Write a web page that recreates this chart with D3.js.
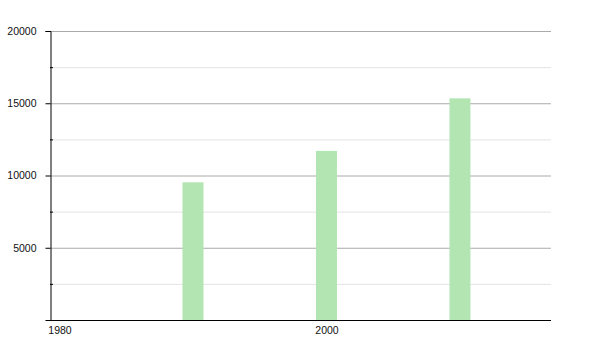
<!DOCTYPE html>
<html>
<head>
  <meta charset="UTF-8">
  <style>
    body { margin: 0; background: #fff; }
    text { font-family: "Liberation Sans", Arial, sans-serif; }
  </style>
</head>
<body>
<svg></svg>
<script src="https://d3js.org/d3.v7.min.js"></script>
<script>

// data
let years = [1990, 2000, 2010];
let values = [9530, 11700, 15340];
let majorTicks = [5000, 10000, 15000, 20000];
let minorTicks = [2500, 7500, 12500, 17500];
let xTicks = [1980, 2000];

let width = 600, height = 350;
let svg = d3.select("svg")
    .attr("width", width)
    .attr("height", height);

let mLeft = 50, mRight = 551, mTop = 31, mBottom = 320;

let x = d3.scaleLinear()
    .domain([1979.29, 2016.82])
    .range([mLeft, mRight]);

let y = d3.scaleLinear()
    .domain([0, 20000])
    .range([mBottom, mTop]);

// minor grid
svg.append("g")
    .selectAll("line")
    .data(minorTicks)
    .enter()
    .append("line")
    .attr("x1", mLeft)
    .attr("x2", mRight)
    .attr("y1", d => y(d) + 0.5)
    .attr("y2", d => y(d) + 0.5)
    .attr("stroke", "#e4e4e4")
    .attr("stroke-width", 1);

// major grid
svg.append("g")
    .selectAll("line")
    .data(majorTicks)
    .enter()
    .append("line")
    .attr("x1", mLeft)
    .attr("x2", mRight)
    .attr("y1", d => y(d) + 0.5)
    .attr("y2", d => y(d) + 0.5)
    .attr("stroke", "#aaaaaa")
    .attr("stroke-width", 1);

// bars
let barW = 21;
svg.append("g")
    .selectAll("rect")
    .data(values)
    .enter()
    .append("rect")
    .attr("x", (d, i) => x(years[i]) - barW / 2)
    .attr("y", d => y(d))
    .attr("width", barW)
    .attr("height", d => y(0) - y(d))
    .attr("fill", "#b3e5b3");

// y axis
let yAxis = d3.axisLeft(y)
    .tickValues(majorTicks)
    .tickFormat(d3.format("d"))
    .tickSize(5)
    .tickPadding(9);

let gy = svg.append("g")
    .attr("transform", "translate(" + (mLeft + 0.5) + ",0)")
    .call(yAxis);
gy.select(".domain").attr("stroke", "#000");
gy.selectAll("text")
    .attr("font-size", 10.5)
    .attr("font-family", "Liberation Sans, Arial, sans-serif")
    .attr("fill", "#111");

// minor ticks on y axis
svg.append("g")
    .selectAll("line")
    .data(minorTicks)
    .enter()
    .append("line")
    .attr("x1", mLeft)
    .attr("x2", mLeft + 3)
    .attr("y1", d => y(d) + 0.5)
    .attr("y2", d => y(d) + 0.5)
    .attr("stroke", "#000");

// x axis
let xAxis = d3.axisBottom(x)
    .tickValues(xTicks)
    .tickFormat(d3.format("d"))
    .tickSize(0)
    .tickPadding(6);

let gx = svg.append("g")
    .attr("transform", "translate(0," + (mBottom + 0.5) + ")")
    .call(xAxis);
gx.select(".domain").attr("stroke", "#000").attr("d", "M" + mLeft + ",0H" + mRight);
gx.selectAll("text")
    .attr("font-size", 10.5)
    .attr("font-family", "Liberation Sans, Arial, sans-serif")
    .attr("fill", "#111");

</script>
</body>
</html>
